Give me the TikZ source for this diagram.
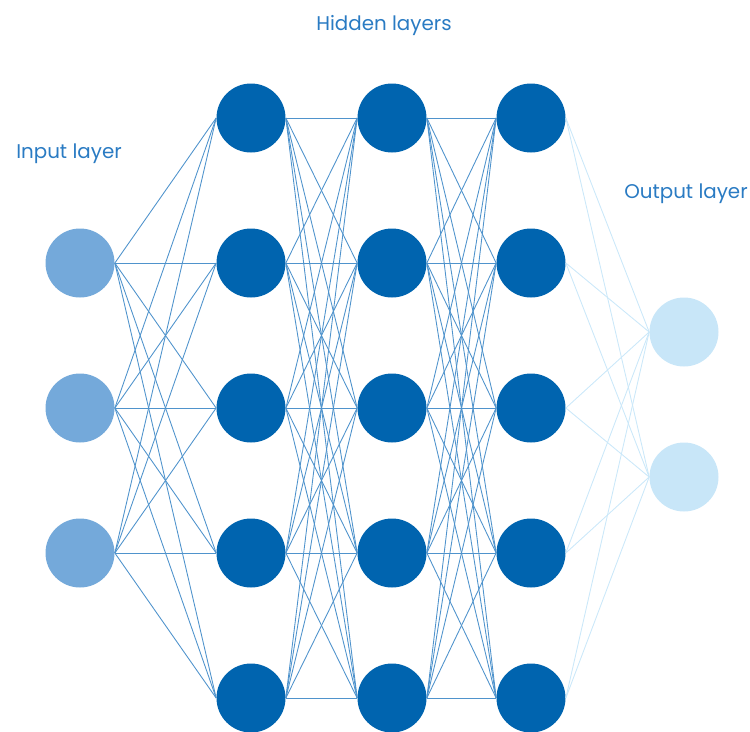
\documentclass[tikz,border=0pt]{standalone}
\usepackage{fontspec}
\setmainfont{Poppins}
\definecolor{inblue}{HTML}{74A9DA}
\definecolor{hidblue}{HTML}{0064AF}
\definecolor{outblue}{HTML}{C8E6F8}
\definecolor{wireblue}{HTML}{4F93CC}
\definecolor{softwire}{HTML}{CBE8F9}
\definecolor{txtblue}{HTML}{2A7BC3}
\tikzset{
  neuron/.style={circle, inner sep=0pt, minimum size=1.38cm},
  lbl/.style={text=txtblue, font=\fontsize{11.3}{13}\selectfont}
}
\begin{document}
\begin{tikzpicture}[x=0.02cm, y=-0.02cm]
\useasboundingbox (0,0) rectangle (750,731);
% layers
\foreach \y [count=\i] in {263,408,553}
  \node [neuron, fill=inblue] (in-\i) at (80,\y) {};
\foreach \x [count=\l] in {251,392,531}
  \foreach \y [count=\i] in {118,263,408,553,698}
    \node [neuron, fill=hidblue] (h\l-\i) at (\x,\y) {};
\foreach \y [count=\i] in {332,477}
  \node [neuron, fill=outblue] (out-\i) at (684,\y) {};
% weights
\foreach \a in {1,...,3}
  \foreach \b in {1,...,5}
    \draw [wireblue, line width=0.5pt] (in-\a.east) -- (h1-\b.west);
\foreach \a in {1,...,5}
  \foreach \b in {1,...,5} {
    \draw [wireblue, line width=0.5pt] (h1-\a.east) -- (h2-\b.west);
    \draw [wireblue, line width=0.5pt] (h2-\a.east) -- (h3-\b.west);
  }
\foreach \a in {1,...,5}
  \foreach \b in {1,2}
    \draw [softwire, line width=0.5pt] (h3-\a.east) -- (out-\b.west);
% captions
\node [lbl] (inlbl) at (69,154) {Input layer};
\node [lbl] (hidlbl) at (384,26) {Hidden layers};
\node [lbl] (outlbl) at (686,194) {Output layer};
\end{tikzpicture}
\end{document}
